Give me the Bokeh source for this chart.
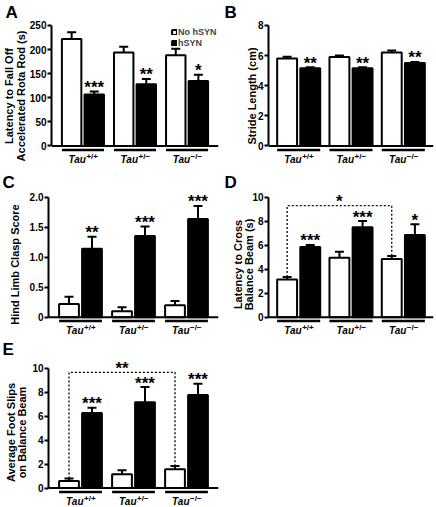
from bokeh.plotting import figure
from bokeh.models import (FactorRange, Range1d, FixedTicker, Span,
                          Legend, LegendItem)
from bokeh.layouts import row, column
from bokeh.embed import file_html
from bokeh.resources import INLINE
from bokeh.core.properties import value

# ---------------- data ----------------
genotypes = ["Tau+/+", "Tau+/\u2212", "Tau\u2212/\u2212"]
genotype_sup = ["+/+", "+/\u2212", "\u2212/\u2212"]
groups = ["No hSYN", "hSYN"]

rotarod_ctrl = [222, 194, 188]
rotarod_ctrl_err = [14, 12, 13.5]
rotarod_hsyn = [107, 128, 135]
rotarod_hsyn_err = [6, 11, 12.5]
rotarod_sig = ["***", "**", "*"]
rotarod_ticks = [0, 50, 100, 150, 200, 250]

stride_ctrl = [5.8, 5.9, 6.2]
stride_ctrl_err = [0.12, 0.1, 0.13]
stride_hsyn = [5.15, 5.15, 5.5]
stride_hsyn_err = [0.08, 0.07, 0.08]
stride_sig = ["**", "**", "**"]
stride_ticks = [0, 2, 4, 6, 8]

clasp_ctrl = [0.22, 0.10, 0.20]
clasp_ctrl_err = [0.12, 0.065, 0.07]
clasp_hsyn = [1.14, 1.355, 1.64]
clasp_hsyn_err = [0.2, 0.16, 0.215]
clasp_sig = ["**", "***", "***"]
clasp_ticks = [0, 0.5, 1.0, 1.5, 2.0]
clasp_tick_labels = ["0", "0.5", "1.0", "1.5", "2.0"]

beam_time_ctrl = [3.15, 4.95, 4.85]
beam_time_ctrl_err = [0.2, 0.5, 0.25]
beam_time_hsyn = [5.85, 7.5, 6.85]
beam_time_hsyn_err = [0.18, 0.52, 0.9]
beam_time_sig = ["***", "***", "*"]
beam_time_ticks = [0, 2, 4, 6, 8, 10]
beam_time_bracket = 9.3
beam_time_bracket_sig = "*"

slips_ctrl = [0.6, 1.15, 1.57]
slips_ctrl_err = [0.2, 0.33, 0.27]
slips_hsyn = [6.27, 7.16, 7.76]
slips_hsyn_err = [0.43, 1.27, 0.94]
slips_sig = ["***", "***", "***"]
slips_ticks = [0, 2, 4, 6, 8, 10]
slips_bracket = 9.65
slips_bracket_sig = "**"

FONT = "Liberation Sans"
STAR_OFFSET = -4


def panel(letter, title_lines, title_standoff, ctrl, ctrl_err, hsyn, hsyn_err,
          sig, ticks, tick_labels, box, frame, axis_px, pads,
          bracket=None, legend_at=None):
    X0, Y0, X1, Y1 = box
    FX0, FY0, FX1, FY1 = frame
    ymax = ticks[-1]
    ytop, yzero = axis_px
    k = ymax / (yzero - ytop)
    y_range = Range1d(-(FY1 - yzero) * k, ymax + (ytop - FY0) * k)
    factors = [(g, c) for g in genotypes for c in groups]
    x_range = FactorRange(factors=factors, factor_padding=0,
                          group_padding=pads[0], range_padding=pads[1],
                          range_padding_units="absolute")
    p = figure(width=X1 - X0, height=Y1 - Y0, x_range=x_range, y_range=y_range,
               x_axis_location=None, y_axis_location="left",
               toolbar_location=None, output_backend="svg",
               min_border_left=FX0 - X0, min_border_right=X1 - FX1,
               min_border_top=FY0 - Y0, min_border_bottom=Y1 - FY1)
    p.extra_y_ranges = {"px": Range1d(-(FY1 - yzero), yzero - FY0)}
    p.outline_line_color = None
    p.grid.grid_line_color = None
    p.background_fill_color = "white"
    p.border_fill_color = "white"

    # panel letter
    p.title.text = letter
    p.title.align = "left"
    p.title.offset = X0 + 2 - FX0
    p.title.standoff = 0
    p.title.text_font = FONT
    p.title.text_font_style = "bold"
    p.title.text_font_size = "17px"
    p.title.text_color = "black"

    x_ctrl = [(g, groups[0]) for g in genotypes]
    x_hsyn = [(g, groups[1]) for g in genotypes]

    # error bars (upper only)
    for xs, v, e in ((x_ctrl, ctrl, ctrl_err), (x_hsyn, hsyn, hsyn_err)):
        tops = [a + b for a, b in zip(v, e)]
        p.segment(x0=xs, y0=v, x1=xs, y1=tops, line_color="black", line_width=2)
        p.scatter(x=xs, y=tops, marker="dash", size=9, line_color="black",
                  line_width=2)

    r_ctrl = p.vbar(x=x_ctrl, top=ctrl, width=0.86, fill_color="white",
                    line_color="black", line_width=2)
    r_hsyn = p.vbar(x=x_hsyn, top=hsyn, width=0.86, fill_color="black",
                    line_color="black", line_width=2)

    # significance stars
    p.text(x=x_hsyn, y=[a + b for a, b in zip(hsyn, hsyn_err)], text=sig,
           text_align="center", text_baseline="alphabetic", y_offset=STAR_OFFSET,
           text_font=value(FONT), text_font_style="bold",
           text_font_size="17px", text_color="black")

    if bracket is not None:
        h, bsig = bracket
        bx = [x_ctrl[0], x_ctrl[0], x_ctrl[2], x_ctrl[2]]
        by = [ctrl[0] + ctrl_err[0], h, h, ctrl[2] + ctrl_err[2]]
        p.line(x=bx, y=by, line_dash="2 2", line_width=1.3, line_color="black")
        p.text(x=[x_ctrl[1]], y=[h], text=[bsig], text_align="center",
               text_baseline="alphabetic", y_offset=STAR_OFFSET,
               text_font=value(FONT), text_font_style="bold",
               text_font_size="17px", text_color="black")

    # baseline
    p.add_layout(Span(location=0, dimension="width", line_color="black",
                      line_width=2))

    # genotype underline + labels
    p.rect(x=genotypes, y=-4, width=1.86, height=2.5, height_units="screen",
           y_range_name="px", fill_color="black", line_color=None)
    p.text(x=genotypes, y=-14, text=["Tau"] * len(genotypes),
           text_align="right", text_baseline="alphabetic", x_offset=3,
           y_range_name="px", text_font=value(FONT),
           text_font_style="bold italic", text_font_size="10px",
           text_color="black")
    p.text(x=genotypes, y=-10.5, text=genotype_sup, text_align="left",
           text_baseline="alphabetic", x_offset=3.5, y_range_name="px",
           text_font=value(FONT), text_font_style="bold",
           text_font_size="8px", text_color="black")

    # y axis
    ax = p.yaxis[0]
    ax.ticker = FixedTicker(ticks=ticks)
    ax.bounds = (0, ymax)
    ax.axis_line_width = 2
    ax.major_tick_line_width = 2
    ax.major_tick_in = 0
    ax.major_tick_out = 4
    ax.minor_tick_in = 0
    ax.minor_tick_out = 0
    ax.major_label_standoff = 1
    ax.major_label_text_font = FONT
    ax.major_label_text_font_style = "bold"
    ax.major_label_text_font_size = "10px"
    ax.major_label_text_color = "black"
    if tick_labels is not None:
        ax.major_label_overrides = {t: l for t, l in zip(ticks, tick_labels)}
    ax.axis_label = "\n".join(title_lines)
    ax.axis_label_standoff = title_standoff
    ax.axis_label_text_font = FONT
    ax.axis_label_text_font_style = "bold"
    ax.axis_label_text_font_size = "11px"
    ax.axis_label_text_color = "black"
    ax.axis_label_text_line_height = 0.95

    if legend_at is not None:
        lx, ly = legend_at[0] - FX0, FY1 - legend_at[1]
        legend = Legend(items=[LegendItem(label=groups[0], renderers=[r_ctrl]),
                               LegendItem(label=groups[1], renderers=[r_hsyn])],
                        location=(lx, ly), glyph_width=6, glyph_height=6,
                        label_text_font=FONT, label_text_font_style="bold",
                        label_text_font_size="9px", label_height=11,
                        label_standoff=1, spacing=0, padding=0, margin=0,
                        border_line_color=None, background_fill_alpha=0)
        p.add_layout(legend)
    return p


LEFT = (0.304, 0.391)
RIGHT = (0.26, 0.304)

pA = panel("A", ["Latency to Fall Off", "Accelerated Rota Rod (s)"], 0,
           rotarod_ctrl, rotarod_ctrl_err, rotarod_hsyn, rotarod_hsyn_err,
           rotarod_sig, rotarod_ticks, None,
           (0, 0, 222, 170), (48, 18, 218, 170), (22, 145), LEFT,
           legend_at=(168, 48))
pB = panel("B", ["Stride Length (cm)"], -3,
           stride_ctrl, stride_ctrl_err, stride_hsyn, stride_hsyn_err,
           stride_sig, stride_ticks, None,
           (222, 0, 435, 170), (268, 18, 433, 170), (22, 145), RIGHT)
pC = panel("C", ["Hind Limb Clasp Score"], 6,
           clasp_ctrl, clasp_ctrl_err, clasp_hsyn, clasp_hsyn_err,
           clasp_sig, clasp_ticks, clasp_tick_labels,
           (0, 170, 222, 337), (48, 186, 218, 337), (192, 316), LEFT)
pD = panel("D", ["Latency to Cross", "Balance Beam (s)"], -6,
           beam_time_ctrl, beam_time_ctrl_err, beam_time_hsyn, beam_time_hsyn_err,
           beam_time_sig, beam_time_ticks, None,
           (222, 170, 435, 337), (268, 186, 433, 337), (192, 316), RIGHT,
           bracket=(beam_time_bracket, beam_time_bracket_sig))
pE = panel("E", ["Average Foot Slips", "on Balance Beam"], 1,
           slips_ctrl, slips_ctrl_err, slips_hsyn, slips_hsyn_err,
           slips_sig, slips_ticks, None,
           (0, 337, 222, 506), (48, 353, 218, 506), (363, 487), LEFT,
           bracket=(slips_bracket, slips_bracket_sig))

layout = column(row(pA, pB), row(pC, pD), pE)

with open("out.html", "w") as f:
    f.write(file_html(layout, INLINE))
